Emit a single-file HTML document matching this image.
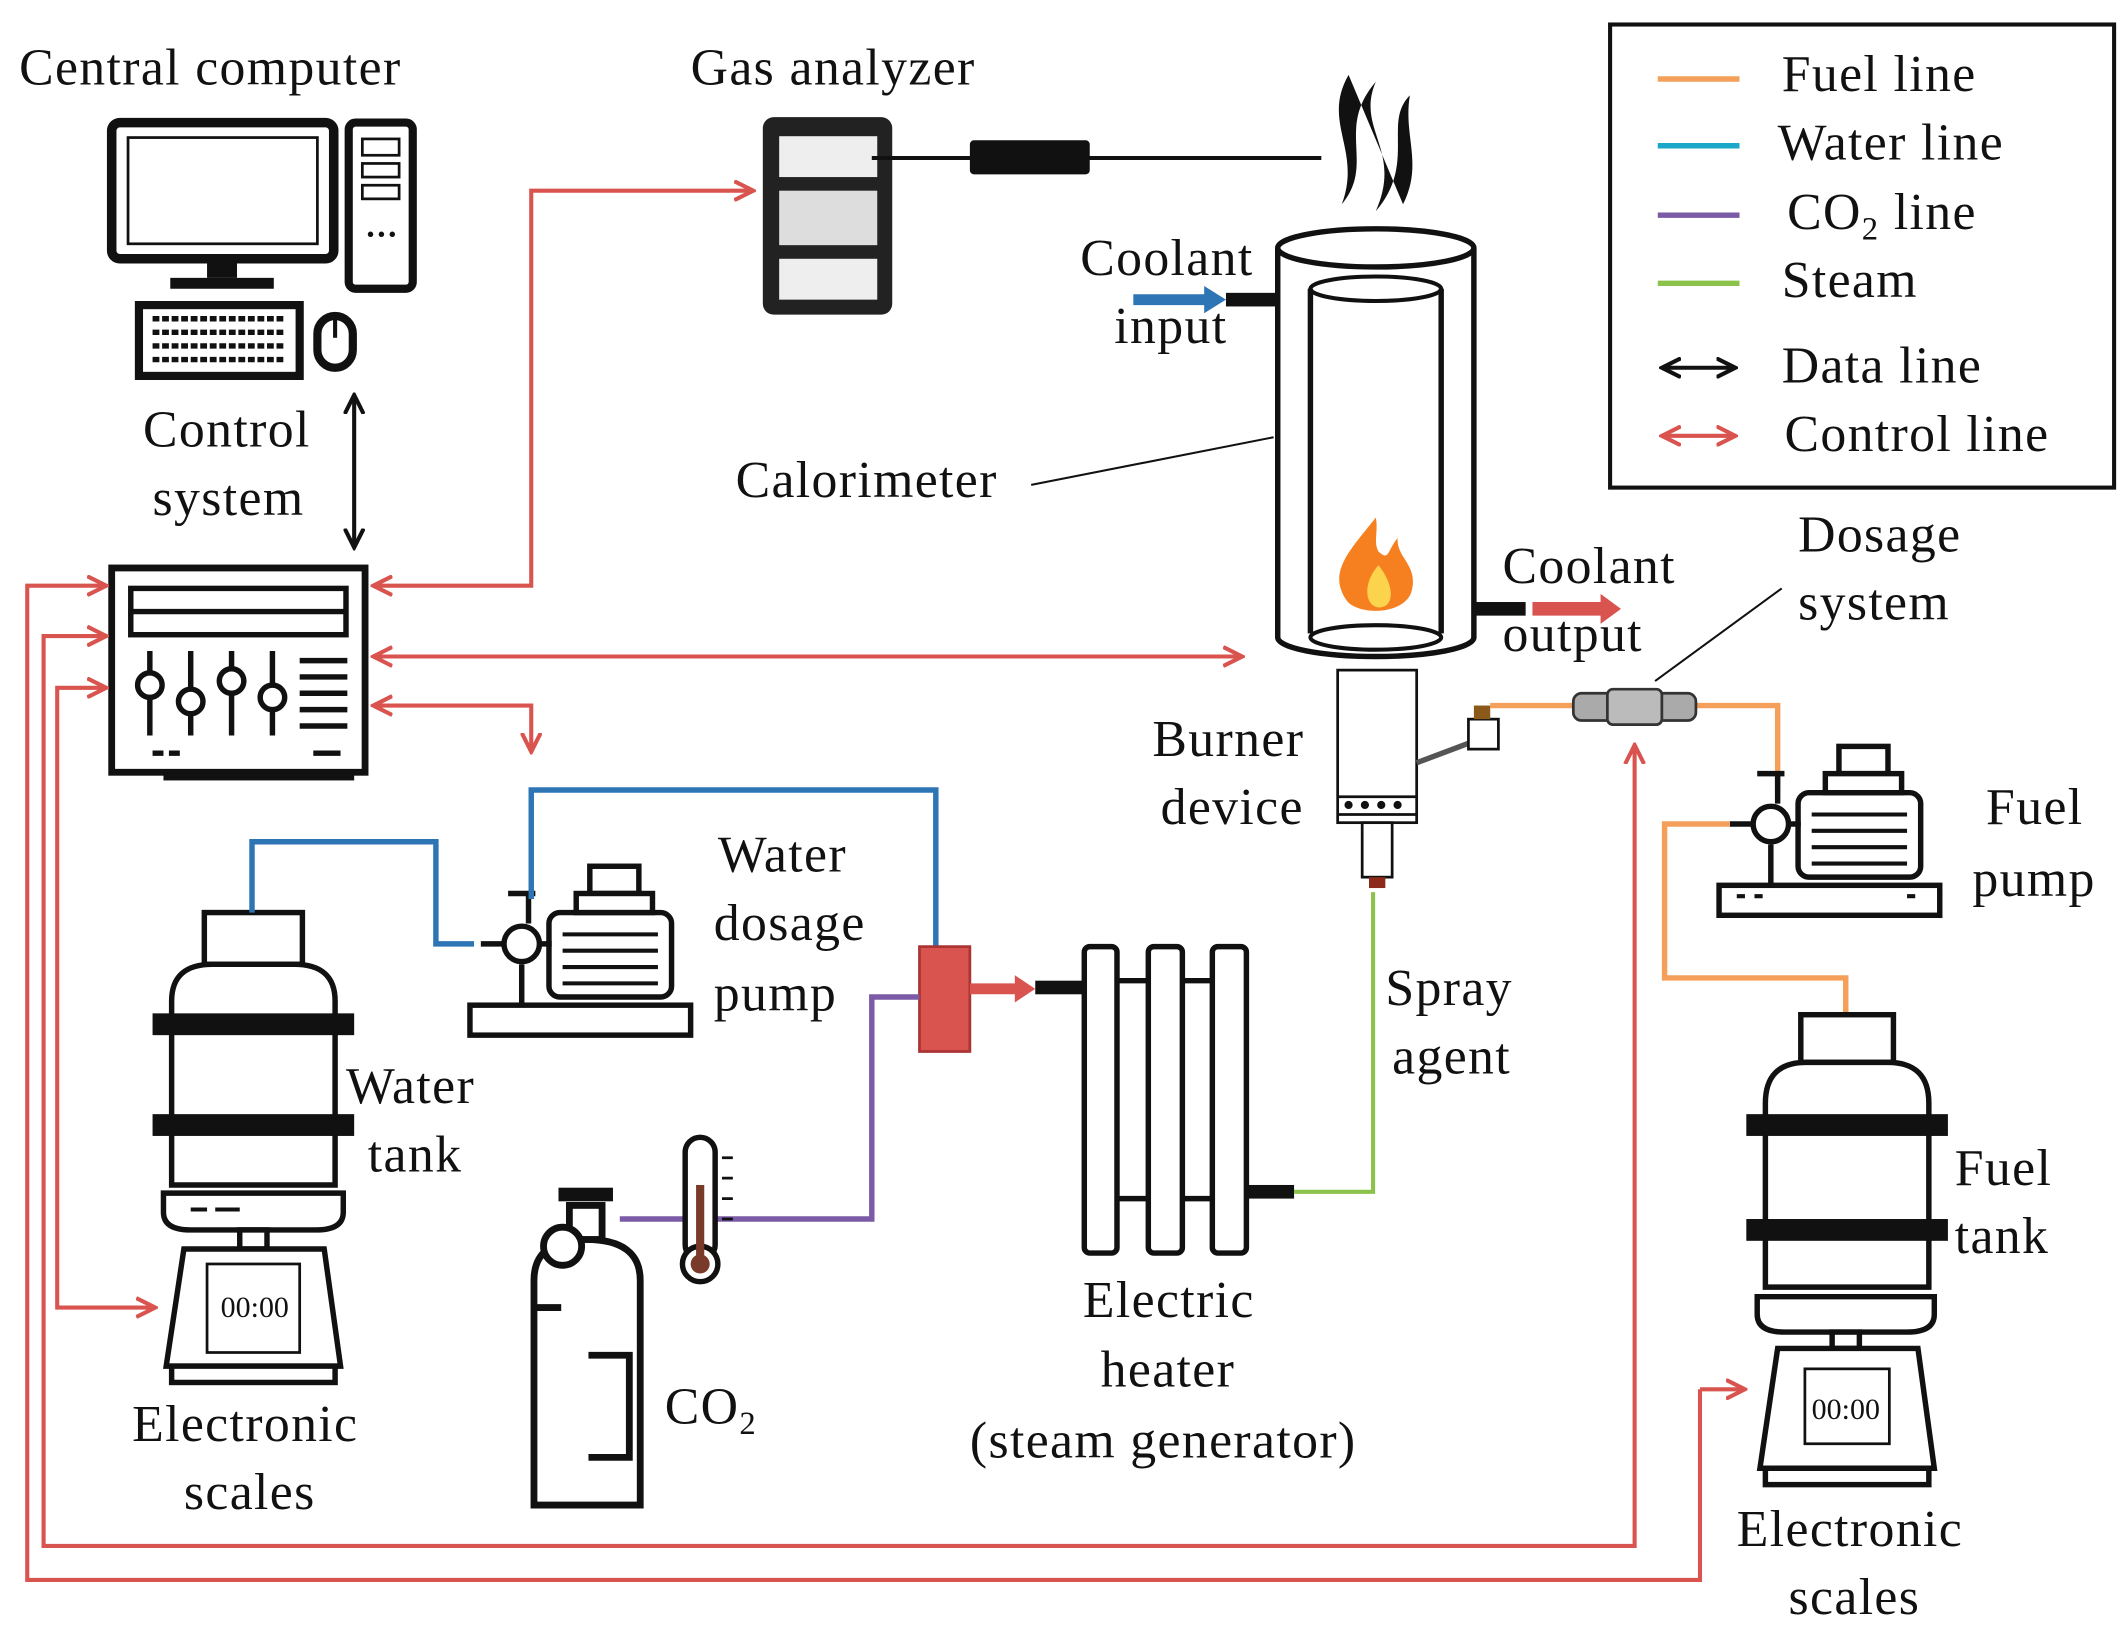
<!DOCTYPE html>
<html><head><meta charset="utf-8"><style>
html,body{margin:0;padding:0;background:#fff;width:2125px;height:1629px;overflow:hidden}
svg{display:block}
text{font-family:"Liberation Serif",serif;font-size:38px;letter-spacing:1px;fill:#111}
</style></head><body>
<svg width="2125" height="1629" viewBox="0 0 1560 1196" preserveAspectRatio="none">
<defs>
<marker id="ra2" markerWidth="16" markerHeight="16" refX="14" refY="8" orient="auto-start-reverse" markerUnits="userSpaceOnUse"><path d="M0,1 L14,8 L0,15" fill="none" stroke="#d9534f" stroke-width="3"/></marker>
<marker id="ba" markerWidth="16" markerHeight="16" refX="14" refY="8" orient="auto-start-reverse" markerUnits="userSpaceOnUse"><path d="M0,1 L14,8 L0,15" fill="none" stroke="#111" stroke-width="3"/></marker>
</defs>
<rect width="1560" height="1196" fill="#fff"/>

<!-- Legend -->
<rect x="1182" y="18" width="370" height="340" fill="none" stroke="#111" stroke-width="3"/>
<line x1="1217" y1="58" x2="1277" y2="58" stroke="#f4a05a" stroke-width="4"/>
<line x1="1217" y1="107" x2="1277" y2="107" stroke="#1aa7c8" stroke-width="4"/>
<line x1="1217" y1="158" x2="1277" y2="158" stroke="#7b5aa6" stroke-width="4"/>
<line x1="1217" y1="208" x2="1277" y2="208" stroke="#8bc34a" stroke-width="4"/>
<line x1="1220" y1="270" x2="1274" y2="270" stroke="#111" stroke-width="3" marker-start="url(#ba)" marker-end="url(#ba)"/>
<line x1="1220" y1="320" x2="1274" y2="320" stroke="#d9534f" stroke-width="3" marker-start="url(#ra2)" marker-end="url(#ra2)"/>
<text x="1308" y="67">Fuel line</text>
<text x="1305" y="117">Water line</text>
<text x="1312" y="168">CO<tspan font-size="24" dy="8">2</tspan><tspan dy="-8"> line</tspan></text>
<text x="1308" y="218">Steam</text>
<text x="1308" y="281">Data line</text>
<text x="1310" y="331">Control line</text>

<!-- Central computer -->
<text x="14" y="62">Central computer</text>
<rect x="82" y="90" width="163" height="100" rx="6" fill="none" stroke="#111" stroke-width="7"/>
<rect x="94" y="101" width="139" height="78" fill="none" stroke="#111" stroke-width="2"/>
<rect x="152" y="192" width="22" height="12" fill="#111"/><rect x="125" y="204" width="76" height="8" fill="#111"/>
<rect x="256" y="90" width="47" height="122" rx="5" fill="none" stroke="#111" stroke-width="6"/>
<rect x="266" y="102" width="27" height="12" fill="none" stroke="#111" stroke-width="2"/>
<rect x="266" y="120" width="27" height="10" fill="none" stroke="#111" stroke-width="2"/>
<rect x="266" y="136" width="27" height="10" fill="none" stroke="#111" stroke-width="2"/>
<circle cx="272" cy="172" r="2" fill="#111"/><circle cx="280" cy="172" r="2" fill="#111"/><circle cx="288" cy="172" r="2" fill="#111"/>
<rect x="102" y="224" width="118" height="52" fill="none" stroke="#111" stroke-width="6"/>
<path d="M112,234h98M112,244h98M112,254h98M112,264h98" stroke="#111" stroke-width="4" stroke-dasharray="5 2"/>
<rect x="233" y="232" width="26" height="38" rx="13" fill="none" stroke="#111" stroke-width="6"/>
<line x1="246" y1="234" x2="246" y2="248" stroke="#111" stroke-width="3"/>
<text x="105" y="328">Control</text>
<text x="112" y="378">system</text>
<line x1="260" y1="290" x2="260" y2="402" stroke="#111" stroke-width="3" marker-start="url(#ba)" marker-end="url(#ba)"/>

<!-- Control box -->
<rect x="82" y="417" width="186" height="150" fill="none" stroke="#111" stroke-width="5"/>
<rect x="96" y="432" width="158" height="34" fill="none" stroke="#111" stroke-width="4"/>
<line x1="96" y1="449" x2="254" y2="449" stroke="#111" stroke-width="4"/>
<g stroke="#111" stroke-width="4" fill="#fff">
<line x1="110" y1="478" x2="110" y2="540"/><circle cx="110" cy="503" r="9"/>
<line x1="140" y1="478" x2="140" y2="540"/><circle cx="140" cy="515" r="9"/>
<line x1="170" y1="478" x2="170" y2="540"/><circle cx="170" cy="500" r="9"/>
<line x1="200" y1="478" x2="200" y2="540"/><circle cx="200" cy="512" r="9"/>
<path d="M220,485h35M220,497h35M220,509h35M220,521h35M220,533h35"/>
</g>
<path d="M112,553h8M124,553h8M230,553h20" stroke="#111" stroke-width="4"/>
<rect x="120" y="567" width="140" height="6" fill="#111"/>

<!-- Gas analyzer -->
<text x="507" y="62">Gas analyzer</text>
<rect x="560" y="86" width="95" height="145" rx="8" fill="#222"/>
<rect x="572" y="100" width="72" height="30" fill="#eee"/>
<rect x="572" y="140" width="72" height="40" fill="#ddd"/>
<rect x="572" y="190" width="72" height="30" fill="#eee"/>
<line x1="640" y1="116" x2="970" y2="116" stroke="#111" stroke-width="3"/>
<rect x="712" y="103" width="88" height="25" rx="3" fill="#111"/>
<path d="M990,55 C970,90 1000,110 985,150 C1010,120 980,95 1010,60 C995,95 1030,110 1010,155 C1040,120 1015,90 1035,70 C1030,100 1045,120 1030,150 Z" fill="#111"/>

<!-- Calorimeter -->
<path d="M938,182 L938,468 A72,14 0 0 0 1082,468 L1082,182" fill="none" stroke="#111" stroke-width="4"/>
<ellipse cx="1010" cy="182" rx="72" ry="14" fill="#fff" stroke="#111" stroke-width="4"/>
<ellipse cx="1010" cy="468" rx="48" ry="9" fill="none" stroke="#111" stroke-width="3"/>
<path d="M962,212 L962,465 M1058,212 L1058,465" stroke="#111" stroke-width="4"/>
<ellipse cx="1010" cy="212" rx="48" ry="9" fill="none" stroke="#111" stroke-width="3"/>
<path d="M1010,380 C990,405 975,420 988,440 C995,452 1030,452 1036,435 C1042,415 1025,410 1026,395 C1018,405 1020,412 1012,405 C1008,398 1012,390 1010,380 Z" fill="#f6801f"/>
<path d="M1012,415 C1000,428 1002,445 1012,446 C1024,446 1024,430 1012,415Z" fill="#fcd34d"/>
<text x="793" y="202">Coolant</text>
<text x="818" y="252">input</text>
<path d="M832,216 H884 V210 L900,220 L884,230 V224 H832 Z" fill="#2e75b6"/>
<rect x="900" y="215" width="38" height="10" fill="#111"/>
<text x="540" y="365">Calorimeter</text>
<line x1="757" y1="356" x2="935" y2="321" stroke="#111" stroke-width="1.5"/>
<text x="1103" y="428">Coolant</text>
<text x="1103" y="478">output</text>
<rect x="1082" y="442" width="38" height="10" fill="#111"/>
<path d="M1125,442 H1175 V436 L1190,447 L1175,458 V452 H1125 Z" fill="#d9534f"/>

<!-- Burner -->
<rect x="982" y="492" width="58" height="112" fill="#fff" stroke="#111" stroke-width="2"/>
<path d="M982,585h58M982,598h58" stroke="#111" stroke-width="2"/>
<circle cx="990" cy="591" r="3" fill="#111"/><circle cx="1002" cy="591" r="3" fill="#111"/><circle cx="1014" cy="591" r="3" fill="#111"/><circle cx="1026" cy="591" r="3" fill="#111"/>
<rect x="1000" y="604" width="22" height="40" fill="#fff" stroke="#111" stroke-width="2"/>
<rect x="1005" y="644" width="12" height="8" fill="#8b2a1a"/>
<path d="M1040,560 L1080,545 L1082,530" stroke="#555" stroke-width="4" fill="none"/>
<rect x="1078" y="528" width="22" height="22" fill="#fff" stroke="#111" stroke-width="2"/>
<rect x="1082" y="518" width="12" height="10" fill="#8b5a1a"/>
<text x="846" y="555">Burner</text>
<text x="852" y="605">device</text>

<!-- Dosage -->
<text x="1320" y="405">Dosage</text>
<text x="1320" y="455">system</text>
<line x1="1308" y1="432" x2="1215" y2="500" stroke="#111" stroke-width="1.5"/>
<path d="M1094,518 H1155 M1245,518 H1305 V580" stroke="#f4a05a" stroke-width="4" fill="none"/>
<rect x="1155" y="509" width="90" height="20" rx="6" fill="#aaa" stroke="#333" stroke-width="2"/>
<rect x="1180" y="506" width="40" height="26" rx="4" fill="#bbb" stroke="#333" stroke-width="2"/>

<!-- Fuel pump -->
<g id="pump" stroke="#111" stroke-width="4" fill="#fff">
<rect x="1262" y="650" width="162" height="22"/>
<rect x="1320" y="582" width="90" height="62" rx="8"/>
<path d="M1330,598h70M1330,610h70M1330,622h70M1330,634h70" stroke-width="3"/>
<rect x="1350" y="548" width="36" height="20"/><rect x="1340" y="568" width="56" height="14"/>
<circle cx="1300" cy="605" r="13"/><path d="M1305,568 V590 M1290,568h20 M1270,605h18 M1312,605h10 M1300,620 V650"/>
</g>
<path d="M1275,658h6M1288,658h6M1400,658h6" stroke="#111" stroke-width="3"/>
<text x="1458" y="605">Fuel</text>
<text x="1448" y="658">pump</text>
<path d="M1270,605 H1222 V718 H1355 V745" stroke="#f4a05a" stroke-width="4" fill="none"/>

<!-- Fuel tank -->
<g stroke="#111" stroke-width="4" fill="#fff">
<rect x="1322" y="745" width="68" height="35"/>
<path d="M1296,945 V810 Q1296,780 1326,780 H1386 Q1416,780 1416,810 V945 Z"/>
<path d="M1290,952 H1420 V965 Q1420,978 1400,978 H1310 Q1290,978 1290,965 Z"/>
<rect x="1345" y="978" width="20" height="12"/>
<path d="M1305,990 H1408 L1420,1078 H1292 Z"/>
<rect x="1325" y="1005" width="62" height="55" stroke-width="2"/>
<rect x="1296" y="1078" width="120" height="12"/>
</g>
<rect x="1282" y="818" width="148" height="16" fill="#111"/>
<rect x="1282" y="895" width="148" height="16" fill="#111"/>
<text x="1330" y="1042" style="font-size:22px;letter-spacing:0">00:00</text>
<text x="1435" y="870">Fuel</text>
<text x="1435" y="920">tank</text>
<text x="1275" y="1135">Electronic</text>
<text x="1313" y="1185">scales</text>

<!-- Water tank -->
<g stroke="#111" stroke-width="4" fill="#fff">
<rect x="150" y="670" width="72" height="38"/>
<path d="M126,870 V735 Q126,708 156,708 H216 Q246,708 246,735 V870 Z"/>
<path d="M120,876 H252 V890 Q252,903 232,903 H140 Q120,903 120,890 Z"/>
<rect x="176" y="903" width="20" height="14"/>
<path d="M135,917 H238 L250,1003 H122 Z"/>
<rect x="152" y="928" width="68" height="65" stroke-width="2"/>
<rect x="126" y="1003" width="120" height="12"/>
</g>
<rect x="112" y="744" width="148" height="16" fill="#111"/>
<rect x="112" y="818" width="148" height="16" fill="#111"/>
<path d="M140,888h12M158,888h18" stroke="#111" stroke-width="3"/>
<text x="162" y="967" style="font-size:22px;letter-spacing:0">00:00</text>
<text x="254" y="810">Water</text>
<text x="270" y="860">tank</text>
<text x="97" y="1058">Electronic</text>
<text x="135" y="1108">scales</text>

<!-- Water pump -->
<use href="#pump" transform="translate(-917,88)"/>
<text x="527" y="640">Water</text>
<text x="524" y="690">dosage</text>
<text x="524" y="742">pump</text>
<path d="M185,670 V618 H320 V693 H348" stroke="#2e75b6" stroke-width="4" fill="none"/>
<path d="M390,660 V580 H687 V695" stroke="#2e75b6" stroke-width="4" fill="none"/>

<!-- Mixer & heater -->
<rect x="675" y="695" width="37" height="77" fill="#d9534f" stroke="#a33" stroke-width="2"/>
<path d="M712,722 H745 V716 L760,726 L745,736 V730 H712 Z" fill="#d9534f"/>
<rect x="760" y="720" width="35" height="10" fill="#111"/>
<g stroke="#111" stroke-width="4" fill="#fff">
<path d="M820,720h23M868,720h22M820,880h23M868,880h22"/>
<rect x="796" y="695" width="24" height="225" rx="4"/>
<rect x="843" y="695" width="25" height="225" rx="4"/>
<rect x="890" y="695" width="25" height="225" rx="4"/>
</g>
<rect x="915" y="870" width="35" height="10" fill="#111"/>
<path d="M950,875 H1008 V655" stroke="#8bc34a" stroke-width="3" fill="none"/>
<text x="1017" y="738">Spray</text>
<text x="1022" y="788">agent</text>
<text x="795" y="967">Electric</text>
<text x="808" y="1018">heater</text>
<text x="712" y="1070">(steam generator)</text>

<!-- CO2 -->
<path d="M455,895 H640 V732 H675" stroke="#7b5aa6" stroke-width="4" fill="none"/>
<g stroke="#111" stroke-width="5" fill="#fff">
<path d="M392,1105 V940 Q392,910 430,910 Q470,910 470,940 V1105 Z"/>
<rect x="418" y="885" width="24" height="25"/>
<circle cx="413" cy="915" r="14"/>
<path d="M432,995 H462 V1070 H432" fill="none"/>
<path d="M392,960h20" />
</g>
<rect x="410" y="872" width="40" height="10" fill="#111"/>
<rect x="503" y="835" width="22" height="90" rx="11" fill="#fff" stroke="#111" stroke-width="4"/>
<circle cx="514" cy="928" r="13" fill="#fff" stroke="#111" stroke-width="4"/>
<circle cx="514" cy="928" r="7" fill="#7a3a2a"/>
<rect x="511" y="870" width="6" height="55" fill="#7a3a2a"/>
<path d="M530,850h8M530,865h8M530,880h8M530,895h8" stroke="#111" stroke-width="2"/>
<text x="488" y="1045">CO<tspan font-size="24" dy="8">2</tspan></text>

<!-- Control lines -->
<g stroke="#d9534f" stroke-width="3" fill="none">
<path d="M274,430 H390 V140 H553" marker-start="url(#ra2)" marker-end="url(#ra2)"/>
<path d="M274,482 H912" marker-start="url(#ra2)" marker-end="url(#ra2)"/>
<path d="M274,518 H390 V552" marker-start="url(#ra2)" marker-end="url(#ra2)"/>
<path d="M1248,1020 V1160 H20 V430 H78" marker-end="url(#ra2)"/>
<path d="M1248,1020 H1281" marker-end="url(#ra2)"/>
<path d="M78,467 H32 V1135 H1200 V547" marker-start="url(#ra2)" marker-end="url(#ra2)"/>
<path d="M78,505 H42 V960 H114" marker-start="url(#ra2)" marker-end="url(#ra2)"/>
</g>
</svg>
</body></html>
